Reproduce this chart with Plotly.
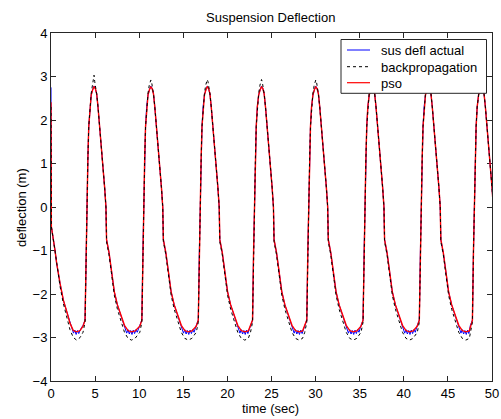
import plotly.graph_objects as go

# ---------------- data ----------------
title_text = "Suspension Deflection"
x_title = "time (sec)"
y_title = "deflection (m)"
series_names = ["sus defl actual", "backpropagation", "pso"]

x_tick_vals = [0, 5, 10, 15, 20, 25, 30, 35, 40, 45, 50]
y_tick_vals = [-4, -3, -2, -1, 0, 1, 2, 3, 4]

# time (s) at which each steep rise of the deflection happens
rise_times = [3.98, 10.42, 16.82, 22.97, 29.12, 35.5, 41.88, 47.9]

# peak value of the backpropagation curve in each cycle
bp_peaks = [3.03, 2.92, 2.93, 2.93, 2.92, 2.9, 2.9, 2.9]

# initial part of the record, before the first rise
init_t_act = [0.0, 0.04, 0.45, 0.64, 1.02, 1.4, 1.78, 2.15, 2.4, 2.55, 2.7, 2.85, 3.0, 3.15, 3.3]
init_y_act = [2.75, -0.45, -0.99, -1.29, -1.75, -2.14, -2.4, -2.67, -2.8, -2.9, -2.83, -2.93, -2.84, -2.91, -2.83]
init_t_pso = [0.0, 0.04, 0.45, 0.64, 1.02, 1.4, 1.78, 2.15, 2.53, 2.9, 3.3]
init_y_pso = [2.41, -0.45, -0.99, -1.29, -1.75, -2.14, -2.4, -2.67, -2.84, -2.87, -2.84]
init_t_bp = [0.0, 0.04, 0.45, 0.64, 1.02, 1.4, 1.78, 2.15, 2.53, 2.9, 3.3]
init_y_bp = [2.3, -0.45, -1.0, -1.32, -1.82, -2.22, -2.5, -2.82, -3.0, -3.06, -3.0]

# one cycle of each curve: time after the rise (s) and value (m)
pso_dt = [-0.35, -0.12, 0.0, 0.1, 0.2, 0.3, 0.42, 0.58, 0.75, 0.9, 1.05, 1.2, 1.35,
          1.5, 1.72, 1.92, 2.1, 2.25, 2.32, 2.6, 2.9, 3.2, 3.55, 3.95, 4.35, 4.75, 5.15, 5.55]
pso_y = [-2.74, -2.6, -1.0, 0.1, 1.1, 1.85, 2.3, 2.58, 2.7, 2.76, 2.72, 2.6, 2.3,
         1.95, 1.5, 1.0, 0.45, 0.0, -0.75, -1.05, -1.5, -1.95, -2.25, -2.5, -2.72, -2.84, -2.87, -2.85]

act_dt = [-0.35, -0.12, 0.0, 0.1, 0.2, 0.3, 0.42, 0.58, 0.75, 0.9, 1.05, 1.2, 1.35,
          1.5, 1.72, 1.92, 2.1, 2.25, 2.32, 2.6, 2.9, 3.2, 3.55, 3.95, 4.25, 4.45,
          4.6, 4.75, 4.9, 5.05, 5.2, 5.35, 5.5, 5.65, 5.8]
act_y = [-2.72, -2.6, -1.0, 0.1, 1.1, 1.85, 2.3, 2.58, 2.7, 2.78, 2.72, 2.6, 2.3,
         1.95, 1.5, 1.0, 0.45, 0.0, -0.75, -1.05, -1.5, -1.95, -2.25, -2.5, -2.72, -2.8,
         -2.9, -2.82, -2.92, -2.84, -2.93, -2.83, -2.91, -2.82, -2.88]

bp_dt = [-0.35, -0.12, 0.0, 0.1, 0.2, 0.3, 0.42, 0.58, 0.72, 0.82, 0.9, 0.98, 1.08, 1.2,
         1.35, 1.5, 1.72, 1.92, 2.1, 2.25, 2.32, 2.6, 2.9, 3.2, 3.55, 3.95, 4.35, 4.75, 5.15, 5.55]
bp_y = [-2.88, -2.65, -1.0, 0.1, 1.1, 1.85, 2.3, 2.62, 2.8, 2.9, None, 2.88, 2.78, 2.6,
        2.3, 1.95, 1.5, 1.0, 0.45, 0.0, -0.8, -1.1, -1.58, -2.03, -2.35, -2.62, -2.88, -3.02, -3.06, -3.02]


def assemble(init_t, init_y, dts, ys, peaks=None, t_end=50.0):
    t = list(init_t)
    y = list(init_y)
    for i, r in enumerate(rise_times):
        nxt = rise_times[i + 1] if i + 1 < len(rise_times) else None
        for d, v in zip(dts, ys):
            tt = r + d
            if nxt is not None and d > 0 and tt > nxt - 0.4:
                break
            t.append(tt)
            y.append(peaks[i] if v is None else v)
            if tt > t_end:
                break
    return t, y


t_act, y_act = assemble(init_t_act, init_y_act, act_dt, act_y)
t_pso, y_pso = assemble(init_t_pso, init_y_pso, pso_dt, pso_y)
t_bp, y_bp = assemble(init_t_bp, init_y_bp, bp_dt, bp_y, bp_peaks)

# ---------------- figure ----------------
FONT = "Liberation Sans, Arial, Helvetica, sans-serif"
W, H = 501, 419
L, R, T, B = 51, 9, 33, 38
PW, PH = W - L - R, H - T - B
DASH = "3px,3px"


def px_x(p):
    return (p - L) / PW


def px_y(p):
    return (H - B - p) / PH


fig = go.Figure()
fig.add_trace(go.Scatter(x=t_act, y=y_act, mode="lines", name=series_names[0],
                         line=dict(color="#0000FF", width=1), showlegend=False))
fig.add_trace(go.Scatter(x=t_pso, y=y_pso, mode="lines", name=series_names[2],
                         line=dict(color="#FF0000", width=1.4), showlegend=False))
fig.add_trace(go.Scatter(x=t_bp, y=y_bp, mode="lines", name=series_names[1],
                         line=dict(color="#000000", width=1, dash=DASH), showlegend=False))

axis_common = dict(
    showgrid=False, zeroline=False, showline=True, linecolor="#262626", linewidth=1,
    ticks="inside", ticklen=5, tickcolor="#262626", mirror="allticks", automargin=False,
    tickfont=dict(family=FONT, size=13, color="#000000"), layer="below traces",
)
fig.update_xaxes(range=[0, 50], tickvals=x_tick_vals, **axis_common)
fig.update_yaxes(range=[-4, 4], tickvals=y_tick_vals, **axis_common)

# manual MATLAB-style legend box
lx0, lx1, ly0, ly1 = 341, 486.5, 39.5, 93.3
shapes = [dict(type="rect", xref="paper", yref="paper", x0=px_x(lx0), x1=px_x(lx1),
               y0=px_y(ly1), y1=px_y(ly0), line=dict(color="#262626", width=1),
               fillcolor="#FFFFFF", layer="above")]
row_y = [50, 66.7, 82.7]
styles = [dict(color="#0000FF", width=1), dict(color="#000000", width=1, dash=DASH),
          dict(color="#FF0000", width=1.2)]
order = [0, 1, 2]
annotations = []
for k, yy in zip(order, row_y):
    shapes.append(dict(type="line", xref="paper", yref="paper", x0=px_x(347), x1=px_x(370),
                       y0=px_y(yy), y1=px_y(yy), line=styles[k], layer="above"))
    annotations.append(dict(text=series_names[k], xref="paper", yref="paper", x=px_x(378.5),
                            y=px_y(yy + 0.5), xanchor="left", yanchor="middle", showarrow=False,
                            font=dict(family=FONT, size=13, color="#000000")))

annotations.append(dict(text=title_text, xref="paper", yref="paper", x=px_x(270), y=px_y(17.5),
                        xanchor="center", yanchor="middle", showarrow=False,
                        font=dict(family=FONT, size=13, color="#000000")))
annotations.append(dict(text=x_title, xref="paper", yref="paper", x=px_x(270.5), y=px_y(408.5),
                        xanchor="center", yanchor="middle", showarrow=False,
                        font=dict(family=FONT, size=13, color="#000000")))
annotations.append(dict(text=y_title, xref="paper", yref="paper", x=px_x(21), y=px_y(207),
                        xanchor="center", yanchor="middle", showarrow=False, textangle=-90,
                        font=dict(family=FONT, size=13, color="#000000")))

fig.update_layout(
    width=W, height=H, margin=dict(l=L, r=R, t=T, b=B, pad=0, autoexpand=False),
    paper_bgcolor="#FFFFFF", plot_bgcolor="#FFFFFF",
    shapes=shapes, annotations=annotations, showlegend=False,
)

fig.write_html(
    "out.html",
    config={"displayModeBar": False},
    post_script="document.body.style.margin='0';document.body.style.overflow='hidden';",
)
